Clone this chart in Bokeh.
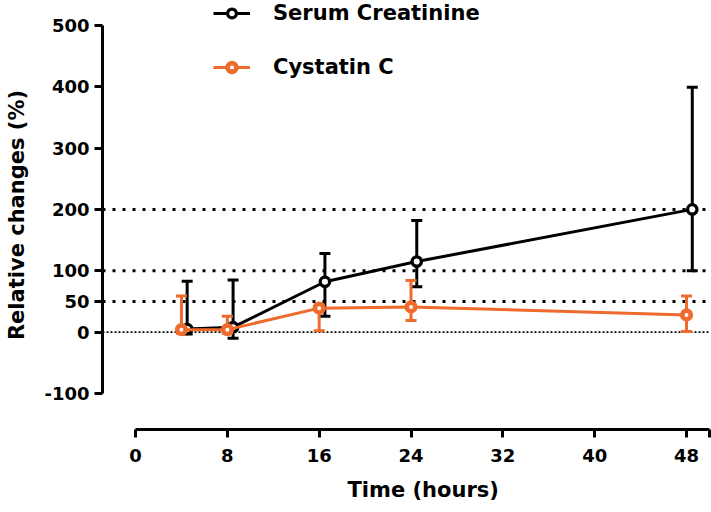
from bokeh.plotting import figure
from bokeh.models import (ColumnDataSource, Whisker, TeeHead, Span, Legend, LegendItem,
                          FixedTicker, Range1d, Title)
from bokeh.embed import file_html
from bokeh.resources import INLINE

# ---- data ----
times = [4, 8, 16, 24, 48]
creat_dodge = 0.5  # creatinine points are drawn slightly to the right

creat_mean = [5, 8, 82, 115, 200]
creat_upper = [83, 85, 128, 182, 399]
creat_lower = [-3, -10, 26, 74, 100]

cyst_mean = [4, 4, 39, 41, 28]
cyst_upper = [59, 26, 44, 84, 59]
cyst_lower = [-2, -2, 2, 19, 1]

ref_levels = [50, 100, 200]
zero_level = 0
y_ticks = [-100, 0, 50, 100, 200, 300, 400, 500]
y_tick_text = {-100: "-100"}
x_ticks = [0, 8, 16, 24, 32, 40, 48, 50]
x_tick_text = {50: ""}

BLACK = "#000000"
ORANGE = "#EF6A2D"
FONT = "DejaVu Sans"

src_cr = ColumnDataSource(dict(x=[t + creat_dodge for t in times], y=creat_mean,
                               upper=creat_upper, lower=creat_lower))
src_cy = ColumnDataSource(dict(x=times, y=cyst_mean, upper=cyst_upper, lower=cyst_lower))

p = figure(width=711, height=512,
           x_range=Range1d(-2.875, 50), y_range=Range1d(-158.8, 540.5),
           output_backend="svg", toolbar_location=None,
           min_border_left=102, min_border_right=2, min_border_top=0, min_border_bottom=80)
p.outline_line_color = None
p.grid.visible = False
p.background_fill_color = "white"
p.border_fill_color = "white"

# reference lines
for lv in ref_levels:
    p.add_layout(Span(location=lv, dimension="width", line_color=BLACK, line_width=3,
                      line_dash="3 7", level="underlay"))
p.add_layout(Span(location=zero_level, dimension="width", line_color=BLACK, line_width=1.8,
                  line_dash="2 2", level="underlay"))

# error bars
for src, col in ((src_cr, BLACK), (src_cy, ORANGE)):
    w = Whisker(base="x", upper="upper", lower="lower", source=src, dimension="height",
                line_color=col, line_width=3, level="underlay",
                upper_head=TeeHead(size=11, line_width=3, line_color=col),
                lower_head=TeeHead(size=11, line_width=3, line_color=col))
    p.add_layout(w)

l1 = p.line("x", "y", source=src_cr, line_color=BLACK, line_width=3)
c1 = p.scatter("x", "y", source=src_cr, size=9.4, line_width=3.3,
               line_color=BLACK, fill_color="white")
l2 = p.line("x", "y", source=src_cy, line_color=ORANGE, line_width=3)
c2 = p.scatter("x", "y", source=src_cy, size=8.6, line_width=4.6,
               line_color=ORANGE, fill_color="white")

# axes
for ax in (p.xaxis[0], p.yaxis[0]):
    ax.axis_line_width = 3
    ax.axis_line_color = BLACK
    ax.major_tick_line_width = 3
    ax.major_tick_line_color = BLACK
    ax.major_tick_in = 0
    ax.major_tick_out = 8
    ax.minor_tick_line_color = None
    ax.major_label_text_font = FONT
    ax.major_label_text_font_style = "bold"
    ax.major_label_text_font_size = "18px"
    ax.major_label_text_color = BLACK

p.yaxis.ticker = FixedTicker(ticks=y_ticks)
p.yaxis.major_label_overrides = y_tick_text
p.yaxis.bounds = (-100, 500)
p.yaxis.major_label_standoff = 5
p.yaxis.axis_label = "Relative changes (%)"
p.yaxis.axis_label_text_font = FONT
p.yaxis.axis_label_text_font_style = "bold"
p.yaxis.axis_label_text_font_size = "21px"
p.yaxis.axis_label_text_color = BLACK
p.yaxis.axis_label_standoff = 12

p.xaxis.ticker = FixedTicker(ticks=x_ticks)
p.xaxis.major_label_overrides = x_tick_text
p.xaxis.bounds = (0, 50)
p.xaxis.major_label_standoff = 11

xt = Title(text="Time (hours)", align="left", offset=245, text_font=FONT,
           text_font_style="bold", text_font_size="21px", text_color=BLACK, standoff=22)
p.add_layout(xt, "below")

legend = Legend(items=[LegendItem(label="Serum Creatinine", renderers=[l1, c1]),
                       LegendItem(label="Cystatin C", renderers=[l2, c2])],
                location=(111, 350), orientation="vertical",
                glyph_width=37, glyph_height=22, label_height=22, spacing=30,
                padding=0, margin=0, label_standoff=23,
                border_line_color=None, background_fill_alpha=0,
                label_text_font=FONT, label_text_font_style="bold",
                label_text_font_size="21px", label_text_color=BLACK)
p.add_layout(legend)

open("out.html", "w").write(file_html(p, INLINE))
